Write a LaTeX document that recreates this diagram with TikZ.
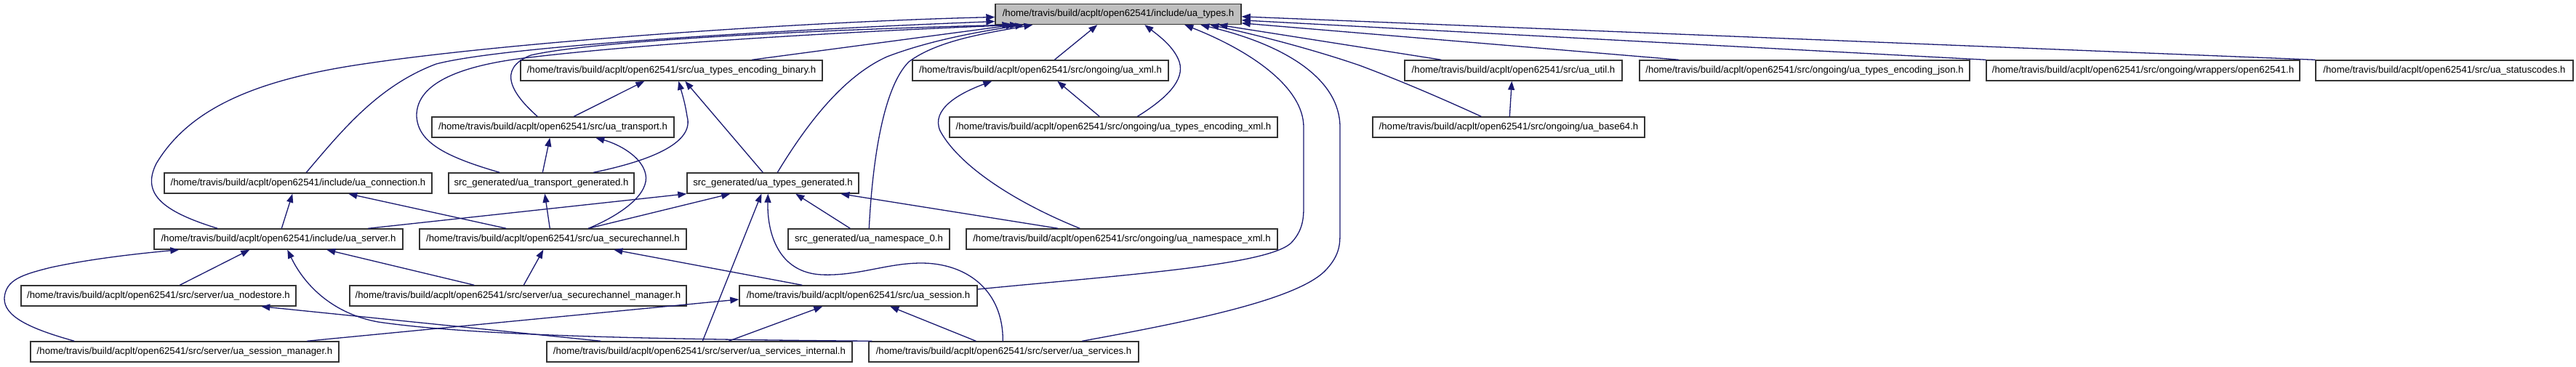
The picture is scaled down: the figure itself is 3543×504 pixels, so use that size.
\documentclass[tikz,border=0pt]{standalone}
\usepackage{fontspec}
\setmainfont{Liberation Sans}
\usetikzlibrary{arrows.meta,calc}
\definecolor{edgec}{RGB}{25,25,112}
\definecolor{boxgray}{RGB}{191,191,191}
\begin{document}
\begin{tikzpicture}[x=1pt,y=-1pt,
  box/.style={draw=black!80, line width=1.4pt, fill=white, rectangle, minimum height=28pt, inner sep=0pt, font=\fontsize{13.2}{15}\selectfont},
  dep/.style={draw=edgec, line width=1.3pt, -{Triangle[length=12pt,width=9pt]}}]
\useasboundingbox (0,0) rectangle (3543,504);
% row 1
\node[box, fill=boxgray, minimum width=338pt] (types) at (1538,19.5) {/home/travis/build/acplt/open62541/include/ua\_types.h};
% row 2
\node[box, minimum width=415pt] (binary) at (923.5,97) {/home/travis/build/acplt/open62541/src/ua\_types\_encoding\_binary.h};
\node[box, minimum width=352pt] (xml) at (1431,97) {/home/travis/build/acplt/open62541/src/ongoing/ua\_xml.h};
\node[box, minimum width=299pt] (util) at (2081.5,97) {/home/travis/build/acplt/open62541/src/ua\_util.h};
\node[box, minimum width=454pt] (json) at (2482,97) {/home/travis/build/acplt/open62541/src/ongoing/ua\_types\_encoding\_json.h};
\node[box, minimum width=431pt] (wrappers) at (2947.5,97) {/home/travis/build/acplt/open62541/src/ongoing/wrappers/open62541.h};
\node[box, minimum width=354pt] (statuscodes) at (3362,97) {/home/travis/build/acplt/open62541/src/ua\_statuscodes.h};
% row 3
\node[box, minimum width=333pt] (transport) at (760.5,175) {/home/travis/build/acplt/open62541/src/ua\_transport.h};
\node[box, minimum width=451pt] (encxml) at (1531.5,175) {/home/travis/build/acplt/open62541/src/ongoing/ua\_types\_encoding\_xml.h};
\node[box, minimum width=374pt] (base64) at (2075,175) {/home/travis/build/acplt/open62541/src/ongoing/ua\_base64.h};
% row 4
\node[box, minimum width=368pt] (connection) at (410,252) {/home/travis/build/acplt/open62541/include/ua\_connection.h};
\node[box, minimum width=255pt] (transgen) at (744.5,252) {src\_generated/ua\_transport\_generated.h};
\node[box, minimum width=236pt] (typesgen) at (1063,252) {src\_generated/ua\_types\_generated.h};
% row 5
\node[box, minimum width=342pt] (server) at (383,329) {/home/travis/build/acplt/open62541/include/ua\_server.h};
\node[box, minimum width=367pt] (securechannel) at (760.5,329) {/home/travis/build/acplt/open62541/src/ua\_securechannel.h};
\node[box, minimum width=222pt] (ns0) at (1195,329) {src\_generated/ua\_namespace\_0.h};
\node[box, minimum width=428pt] (nsxml) at (1543,329) {/home/travis/build/acplt/open62541/src/ongoing/ua\_namespace\_xml.h};
% row 6
\node[box, minimum width=378pt] (nodestore) at (218,407) {/home/travis/build/acplt/open62541/src/server/ua\_nodestore.h};
\node[box, minimum width=463pt] (scm) at (712.5,407) {/home/travis/build/acplt/open62541/src/server/ua\_securechannel\_manager.h};
\node[box, minimum width=327pt] (session) at (1180.5,407) {/home/travis/build/acplt/open62541/src/ua\_session.h};
% row 7
\node[box, minimum width=424pt] (sessmgr) at (254,484) {/home/travis/build/acplt/open62541/src/server/ua\_session\_manager.h};
\node[box, minimum width=420pt] (servint) at (962,484) {/home/travis/build/acplt/open62541/src/server/ua\_services\_internal.h};
\node[box, minimum width=371pt] (services) at (1380.5,484) {/home/travis/build/acplt/open62541/src/server/ua\_services.h};

% edges into ua_types
\draw[dep] ($(binary.north west)+(319,0)$) -- ($(types.south west)+(27,0)$);
\draw[dep] ($(transport.north west)+(146,0)$) .. controls (705,130) and (682,95) .. (730,76) .. controls (820,55) and (1150,40) .. ($(types.south west)+(22,0)$);
\draw[dep] ($(transgen.north west)+(71,0)$) .. controls (610,215) and (575,195) .. (573,160) .. controls (572,112) and (640,90) .. (720,80) .. controls (900,58) and (1200,42) .. ($(types.south west)+(33,0)$);
\draw[dep] ($(connection.north west)+(196,0)$) .. controls (470,180) and (520,118) .. (600,88) .. controls (700,62) and (1100,40) .. ($(types.west)+(0,10)$);
\draw[dep] ($(server.north west)+(88,0)$) .. controls (220,290) and (195,265) .. (215,225) .. controls (260,150) and (350,110) .. (500,88) .. controls (700,58) and (1100,30) .. ($(types.west)+(0,4)$);
\draw[dep] ($(typesgen.north west)+(125,0)$) .. controls (1110,170) and (1160,105) .. (1220,78) .. controls (1280,55) and (1350,43) .. ($(types.south west)+(40,0)$);
\draw[dep] ($(ns0.north west)+(112,0)$) .. controls (1200,220) and (1215,120) .. (1250,85) .. controls (1290,55) and (1360,45) .. ($(types.south west)+(52,0)$);
\draw[dep] ($(xml.north west)+(196,0)$) -- ($(types.south west)+(141,0)$);
\draw[dep] ($(encxml.north west)+(259,0)$) .. controls (1605,135) and (1630,110) .. (1622,85) .. controls (1615,65) and (1595,50) .. ($(types.south west)+(206,0)$);
\draw[dep] ($(session.east)+(0,-9)$) .. controls (1550,378) and (1740,365) .. (1775,335) .. controls (1792,318) and (1793,300) .. (1793,285) -- (1793,175) .. controls (1793,120) and (1720,70) .. ($(types.south west)+(261,0)$);
\draw[dep] ($(services.north west)+(294,0)$) .. controls (1650,440) and (1790,410) .. (1825,370) .. controls (1843,350) and (1843,335) .. (1843,320) -- (1843,175) .. controls (1843,110) and (1770,62) .. ($(types.south west)+(283,0)$);
\draw[dep] ($(base64.north west)+(150,0)$) .. controls (1960,125) and (1910,105) .. (1870,90) .. controls (1800,66) and (1720,46) .. ($(types.south west)+(296,0)$);
\draw[dep] ($(util.north west)+(51,0)$) -- ($(types.south west)+(308,0)$);
\draw[dep] ($(json.north west)+(55,0)$) -- ($(types.north east)+(0,27)$);
\draw[dep] (wrappers.north west) -- ($(types.north east)+(0,23)$);
\draw[dep] (statuscodes.north west) -- ($(types.north east)+(0,18)$);

% other edges
\draw[dep] ($(transport.north west)+(196,0)$) -- ($(binary.south west)+(171,0)$);
\draw[dep] ($(transgen.north west)+(130,0)$) -- ($(transport.south west)+(163,0)$);
\draw[dep] ($(transgen.north west)+(200,0)$) .. controls (900,220) and (955,195) .. (945,160) .. controls (942,140) and (937,125) .. ($(binary.south west)+(218,0)$);
\draw[dep] ($(typesgen.north west)+(105,0)$) -- ($(binary.south west)+(227,0)$);
\draw[dep] ($(ns0.north west)+(86,0)$) -- ($(typesgen.south west)+(150,0)$);
\draw[dep] ($(encxml.north west)+(207,0)$) -- ($(xml.south west)+(200,0)$);
\draw[dep] ($(nsxml.north west)+(157,0)$) .. controls (1400,280) and (1320,230) .. (1293,180) .. controls (1280,150) and (1320,128) .. ($(xml.south west)+(110,0)$);
\draw[dep] ($(nsxml.north west)+(127,0)$) -- ($(typesgen.south west)+(212,0)$);
\draw[dep] ($(base64.north west)+(189,0)$) -- ($(util.south west)+(148,0)$);
\draw[dep] ($(server.north west)+(176,0)$) -- ($(connection.south west)+(177,0)$);
\draw[dep] ($(securechannel.north west)+(120,0)$) -- ($(connection.south west)+(254,0)$);
\draw[dep] ($(securechannel.north west)+(180,0)$) -- ($(transgen.south west)+(133,0)$);
\draw[dep] ($(securechannel.north west)+(233,0)$) .. controls (860,293) and (893,265) .. (888,240) .. controls (883,215) and (850,198) .. ($(transport.south west)+(226,0)$);
\draw[dep] ($(securechannel.north west)+(233,0)$) -- ($(typesgen.south west)+(60,0)$);
\draw[dep] ($(server.north west)+(295,0)$) -- (typesgen.south west);
\draw[dep] ($(scm.north west)+(172,0)$) -- ($(server.south west)+(238,0)$);
\draw[dep] ($(scm.north west)+(240,0)$) -- ($(securechannel.south west)+(171,0)$);
\draw[dep] ($(session.north west)+(87,0)$) -- ($(securechannel.south west)+(268,0)$);
\draw[dep] ($(sessmgr.north west)+(381,0)$) -- ($(session.west)+(0,5)$);
\draw[dep] ($(servint.north west)+(251,0)$) -- ($(session.south west)+(115,0)$);
\draw[dep] ($(services.north west)+(148,0)$) -- ($(session.south west)+(208,0)$);
\draw[dep] ($(servint.north west)+(215,0)$) -- ($(typesgen.south west)+(103,0)$);
\draw[dep] ($(services.north west)+(185,0)$) .. controls (1380,400) and (1330,362) .. (1267,362) .. controls (1220,362) and (1180,380) .. (1130,378) .. controls (1070,375) and (1055,320) .. ($(typesgen.south west)+(112,0)$);
\draw[dep] ($(sessmgr.north west)+(61,0)$) .. controls (40,452) and (5,435) .. (6,410) .. controls (8,385) and (30,378) .. (70,368) .. controls (130,355) and (200,348) .. ($(server.south west)+(35,0)$);
\draw[dep] ($(nodestore.north west)+(219,0)$) -- ($(server.south west)+(132,0)$);
\draw[dep] ($(services.north west)+(5,0)$) .. controls (900,467) and (650,462) .. (520,443) .. controls (460,432) and (420,395) .. ($(server.south west)+(184,0)$);
\draw[dep] ($(servint.north west)+(75,0)$) -- ($(nodestore.south west)+(331,0)$);
\end{tikzpicture}
\end{document}
